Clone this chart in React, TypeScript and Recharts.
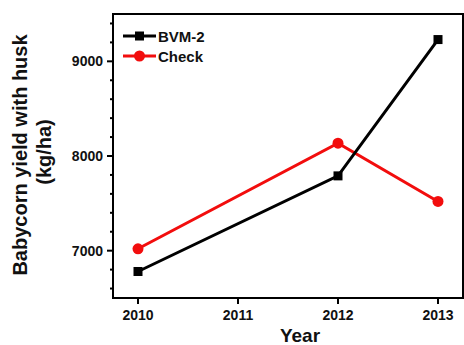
import { LineChart, Line, XAxis, YAxis } from "recharts"

const years = [2010, 2012, 2013]
const bvm2 = [6780, 7790, 9230]
const check = [7020, 8135, 7520]

const yearTicks = [2010, 2011, 2012, 2013]
const yieldTicks = [6600, 6800, 7000, 7200, 7400, 7600, 7800, 8000, 8200, 8400, 8600, 8800, 9000, 9200, 9400]
const yieldLabels = [7000, 8000, 9000]

const X_DOMAIN: [number, number] = [2009.75, 2013.25]
const Y_DOMAIN: [number, number] = [6500, 9500]

const FONT = "'Liberation Sans', Arial, sans-serif"
const RED = "#f20d0d"

const WIDTH = 464
const HEIGHT = 345
const MARGIN = { top: 14, right: 1, bottom: 0, left: 0 }
const Y_AXIS_WIDTH = 113
const X_AXIS_HEIGHT = 47

const data = years.map((year, i) => ({ year, bvm2: bvm2[i], check: check[i] }))

const series = [
  { key: "bvm2", name: "BVM-2", color: "#000", shape: "square" },
  { key: "check", name: "Check", color: RED, shape: "circle" },
]

function Marker({ shape, cx, cy, color }: { shape: string; cx: number; cy: number; color: string }) {
  if (shape === "square") return <rect x={cx - 4.5} y={cy - 4.5} width={9} height={9} fill={color} />
  return <circle cx={cx} cy={cy} r={5.5} fill={color} />
}

function YieldTick({ x, y, payload }: any) {
  const major = yieldLabels.includes(payload.value)
  return (
    <g>
      <line x1={x} x2={x - (major ? 6 : 3)} y1={y} y2={y} stroke="#000" strokeWidth={2} />
      {major && (
        <text x={x - 10} y={y} dy={5} textAnchor="end" fontFamily={FONT} fontWeight="bold" fontSize={14} fill="#111">
          {payload.value}
        </text>
      )}
    </g>
  )
}

function YearTick({ x, y, payload }: any) {
  return (
    <g>
      <line x1={x} x2={x} y1={y} y2={y + 6} stroke="#000" strokeWidth={2} />
      <text x={x} y={y + 22} textAnchor="middle" fontFamily={FONT} fontWeight="bold" fontSize={14} fill="#111">
        {payload.value}
      </text>
    </g>
  )
}

// closed box around the plot area
function Frame() {
  const w = 2.5
  return (
    <div
      style={{
        position: "absolute",
        left: MARGIN.left + Y_AXIS_WIDTH - w / 2,
        top: MARGIN.top - w / 2,
        width: WIDTH - MARGIN.left - MARGIN.right - Y_AXIS_WIDTH + w,
        height: HEIGHT - MARGIN.top - MARGIN.bottom - X_AXIS_HEIGHT + w,
        border: `${w}px solid #000`,
        boxSizing: "border-box",
        pointerEvents: "none",
      }}
    />
  )
}

// legend sits inside the plot frame, top-left
function LegendBox() {
  return (
    <div
      style={{
        position: "absolute",
        left: 123,
        top: 26,
        fontFamily: FONT,
        fontWeight: "bold",
        fontSize: 15,
        color: "#111",
      }}
    >
      {series.map((s) => (
        <div key={s.key} style={{ display: "flex", alignItems: "center", height: 20 }}>
          <svg width={33} height={20}>
            <line x1={0} x2={33} y1={10} y2={10} stroke={s.color} strokeWidth={3} />
            <Marker shape={s.shape} cx={16.5} cy={10} color={s.color} />
          </svg>
          <span style={{ marginLeft: 2 }}>{s.name}</span>
        </div>
      ))}
    </div>
  )
}

export default function App() {
  return (
    <div style={{ position: "absolute", left: 0, top: 0, width: WIDTH, height: HEIGHT, background: "#fff" }}>
      <LineChart width={WIDTH} height={HEIGHT} data={data} margin={MARGIN}>
        <XAxis
          dataKey="year"
          type="number"
          domain={X_DOMAIN}
          ticks={yearTicks}
          tick={<YearTick />}
          tickLine={false}
          tickSize={0}
          tickMargin={0}
          axisLine={false}
          height={X_AXIS_HEIGHT}
          label={{
            content: () => (
              <text x={300} y={342} textAnchor="middle" fontFamily={FONT} fontWeight="bold" fontSize={19} fill="#111">
                Year
              </text>
            ),
          }}
        />
        <YAxis
          type="number"
          domain={Y_DOMAIN}
          ticks={yieldTicks}
          tick={<YieldTick />}
          tickLine={false}
          tickSize={0}
          tickMargin={0}
          axisLine={false}
          width={Y_AXIS_WIDTH}
          interval={0}
          label={{
            content: () => (
              <g fontFamily={FONT} fontWeight="bold" fontSize={20} fill="#111" textAnchor="middle">
                <text transform="translate(27,155) rotate(-90)">Babycorn yield with husk</text>
                <text transform="translate(51,152) rotate(-90)">(kg/ha)</text>
              </g>
            ),
          }}
        />
        <Line
          dataKey="check"
          name="Check"
          stroke={RED}
          strokeWidth={3}
          isAnimationActive={false}
          dot={(p: any) => <Marker key={p.index} shape="circle" cx={p.cx} cy={p.cy} color={RED} />}
        />
        <Line
          dataKey="bvm2"
          name="BVM-2"
          stroke="#000"
          strokeWidth={3}
          isAnimationActive={false}
          dot={(p: any) => <Marker key={p.index} shape="square" cx={p.cx} cy={p.cy} color="#000" />}
        />
      </LineChart>
      <Frame />
      <LegendBox />
    </div>
  )
}
